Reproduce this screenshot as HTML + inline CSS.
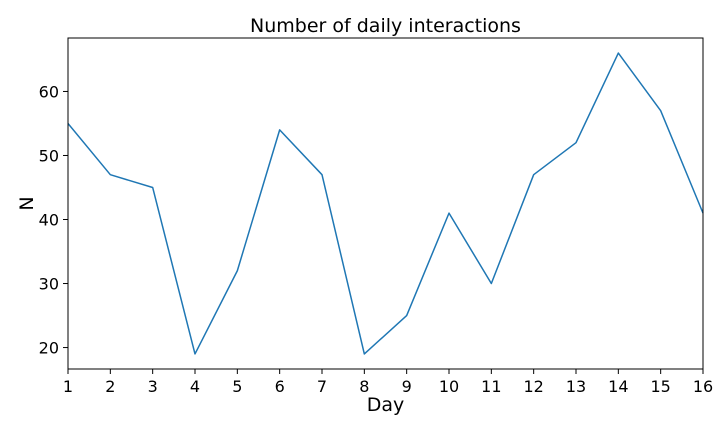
<!DOCTYPE html>
<html>
<head>
<meta charset="utf-8">
<style>
html,body{margin:0;padding:0;background:#fff;}
svg{display:block;font-family:"DejaVu Sans","Liberation Sans",sans-serif;}
</style>
</head>
<body>
<svg id="chart" width="720" height="432" viewBox="0 0 720 432" xmlns="http://www.w3.org/2000/svg"></svg>
<script>
const days = [1,2,3,4,5,6,7,8,9,10,11,12,13,14,15,16];
const counts = [55,47,45,19,32,54,47,19,25,41,30,47,52,66,57,41];
const yTicks = [20,30,40,50,60];
const xTicks = [1,2,3,4,5,6,7,8,9,10,11,12,13,14,15,16];

const L=68,R=703,T=38,B=369;
const yMin=16.65,yMax=68.35,xMin=1,xMax=16;
const sx=v=>L+(v-xMin)/(xMax-xMin)*(R-L);
const sy=v=>B-(v-yMin)/(yMax-yMin)*(B-T);
const NS="http://www.w3.org/2000/svg";
const svg=document.getElementById('chart');
function mk(tag,attrs,parent){const e=document.createElementNS(NS,tag);for(const k in attrs)e.setAttribute(k,attrs[k]);(parent||svg).appendChild(e);return e;}

const title=mk('text',{x:(L+R)/2,y:32,'text-anchor':'middle','font-size':19,fill:'#000'});


title.textContent='Number of daily interactions';

const xg=mk('g',{});


xTicks.forEach(t=>{
  const x=sx(t);
  mk('line',{x1:x,x2:x,y1:B,y2:B+5,stroke:'#000','stroke-width':1},xg);
  const tx=mk('text',{x:x,y:B+23,'text-anchor':'middle','font-size':16,fill:'#000'},xg);
  
  
  tx.textContent=t;
});
const xl=mk('text',{x:(L+R)/2,y:411,'text-anchor':'middle','font-size':19,fill:'#000'});


xl.textContent='Day';

const yg=mk('g',{});


yTicks.forEach(t=>{
  const y=sy(t);
  mk('line',{x1:L-5,x2:L,y1:y,y2:y,stroke:'#000','stroke-width':1},yg);
  const tx=mk('text',{x:L-9,y:y+6,'text-anchor':'end','font-size':16,fill:'#000'},yg);
  
  
  tx.textContent=t;
});
const yl=mk('text',{x:33,y:(T+B)/2,'text-anchor':'middle','font-size':19,fill:'#000',transform:`rotate(-90 33 ${(T+B)/2})`});


yl.textContent='N';

const line=mk('polyline',{points:days.map((d,i)=>sx(d)+','+sy(counts[i])).join(' '),fill:'none',stroke:'#1f77b4','stroke-width':1.5,'stroke-linejoin':'round'});



const frame=mk('rect',{x:L,y:T,width:R-L,height:B-T,fill:'none',stroke:'#000','stroke-width':1});


</script>
</body>
</html>
